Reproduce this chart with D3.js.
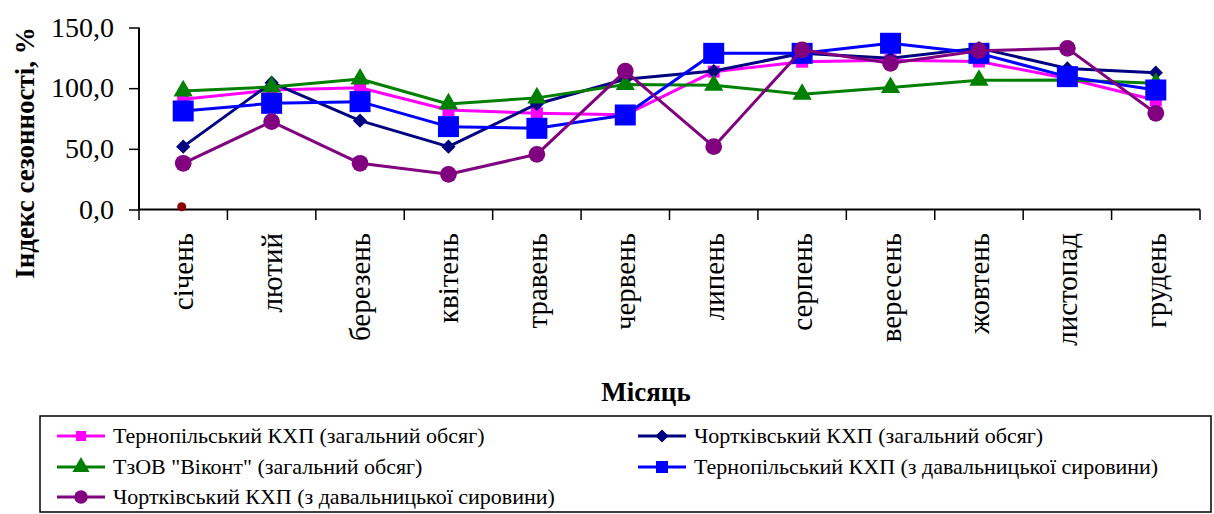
<!DOCTYPE html>
<html><head><meta charset="utf-8"><script src="https://cdn.jsdelivr.net/npm/d3@7"></script></head>
<body style="margin:0">
<svg id="chart" width="1214" height="514" style="display:block"></svg>
<script>
const FONT = '"Liberation Serif", monospace';

// Місяці року
const months = ["січень", "лютий", "березень", "квітень", "травень", "червень",
  "липень", "серпень", "вересень", "жовтень", "листопад", "грудень"];

// Індекс сезонності, %
const ternopilTotal   = [90.8, 98.5, 100.4, 82.0, 79.3, 78.0, 113.6, 121.8, 123.0, 122.0, 108.0, 90.0];
const chortkivTotal   = [51.8, 104.5, 73.2, 51.8, 87.0, 107.3, 114.1, 128.7, 124.6, 133.0, 116.3, 112.8];
const vikontTotal     = [97.7, 101.0, 107.5, 87.0, 92.0, 103.0, 102.5, 95.0, 100.5, 106.5, 106.7, 104.0];
const ternopilToll    = [81.2, 87.5, 88.9, 68.3, 66.9, 77.9, 128.7, 128.7, 137.0, 128.7, 109.5, 98.5];
const chortkivToll    = [38.1, 72.4, 38.1, 29.0, 45.5, 114.1, 51.8, 131.5, 120.5, 130.9, 132.8, 79.3];
// окрема точка біля осі (січень)
const strayPoint = [2.3];

const yTicks = [0, 50, 100, 150];

const seriesNames = [
  "Тернопільський КХП (загальний обсяг)",
  "Чортківський КХП (загальний обсяг)",
  "ТзОВ \"Віконт\" (загальний обсяг)",
  "Тернопільський КХП (з давальницької сировини)",
  "Чортківський КХП (з давальницької сировини)"
];

const seriesStyle = [
  { color: "#FF00FF", symbol: d3.symbolSquare,   size: 144 },
  { color: "#000080", symbol: d3.symbolDiamond2, size: 130 },
  { color: "#008000", symbol: d3.symbolTriangle, size: 160 },
  { color: "#0000FF", symbol: d3.symbolSquare,   size: 441 },
  { color: "#800080", symbol: d3.symbolCircle,   size: 220 }
];
const seriesValues = [ternopilTotal, chortkivTotal, vikontTotal, ternopilToll, chortkivToll];

const svg = d3.select("#chart");

const x = d3.scaleBand().domain(months).range([139, 1200]);
const y = d3.scaleLinear().domain([0, 150]).range([209.5, 27.5]);
const cx = m => x(m) + x.bandwidth() / 2;

// Вісь Y (лінія і засічки)
const yAxis = svg.append("g")
  .attr("transform", "translate(139,0)")
  .call(d3.axisLeft(y).tickValues(yTicks).tickSize(10).tickFormat(""));
yAxis.select(".domain").attr("stroke", "#000").attr("stroke-width", 2).attr("d", `M0,${y(0)}V${y(150)}`);
yAxis.selectAll(".tick line").attr("stroke", "#000").attr("stroke-width", 1.5);
yAxis.selectAll(".tick text").remove();

// Підписи значень осі Y
svg.selectAll("text.ylab").data(yTicks).enter().append("text")
  .attr("class", "ylab")
  .attr("x", 114).attr("y", d => y(d) + 9)
  .attr("text-anchor", "end")
  .style("font-family", FONT).style("font-size", "28px")
  .attr("fill", "#000")
  .text(d => d.toFixed(1).replace(".", ","));

// Вісь X: лінія, засічки на межах категорій, підписи місяців
const xAxisG = svg.append("g");
xAxisG.append("line")
  .attr("x1", x.range()[0]).attr("x2", x.range()[1])
  .attr("y1", y(0)).attr("y2", y(0))
  .attr("stroke", "#000").attr("stroke-width", 2);
const boundaries = months.map(m => x(m)).concat([x.range()[1]]);
xAxisG.selectAll("line.tick").data(boundaries).enter().append("line")
  .attr("class", "tick")
  .attr("x1", d => d).attr("x2", d => d)
  .attr("y1", y(0)).attr("y2", y(0) + 10.5)
  .attr("stroke", "#000").attr("stroke-width", 1.5);
svg.selectAll("text.xlab").data(months).enter().append("text")
  .attr("class", "xlab")
  .attr("transform", d => `translate(${cx(d) + 10},233) rotate(-90)`)
  .attr("text-anchor", "end")
  .style("font-family", FONT).style("font-size", "29px")
  .attr("fill", "#000")
  .text(d => d);

// Назви осей
svg.append("text")
  .attr("transform", "translate(34,153) rotate(-90)")
  .attr("text-anchor", "middle")
  .style("font-family", FONT).style("font-size", "27px").style("font-weight", "bold")
  .text("Індекс сезонності, %");
svg.append("text")
  .attr("x", 646).attr("y", 401)
  .attr("text-anchor", "middle")
  .style("font-family", FONT).style("font-size", "27px").style("font-weight", "bold")
  .text("Місяць");

// Ряди даних
const line = d3.line().x(d => cx(d.m)).y(d => y(d.v));
seriesValues.forEach((vals, i) => {
  const st = seriesStyle[i];
  const pts = vals.map((v, j) => ({ m: months[j], v }));
  const g = svg.append("g");
  g.append("path").datum(pts)
    .attr("d", line).attr("fill", "none")
    .attr("stroke", st.color).attr("stroke-width", 3).attr("stroke-linejoin", "round");
  g.selectAll("path.pt").data(pts).enter().append("path")
    .attr("class", "pt")
    .attr("transform", d => `translate(${cx(d.m)},${y(d.v)})`)
    .attr("d", d3.symbol(st.symbol, st.size))
    .attr("fill", st.color);
});

// Окрема точка
svg.selectAll("circle.stray").data(strayPoint).enter().append("circle")
  .attr("class", "stray")
  .attr("cx", (d, i) => cx(months[i]) - 1.5).attr("cy", d => y(d))
  .attr("r", 4.5).attr("fill", "#8B0000");

// Легенда
const legend = svg.append("g");
legend.append("rect")
  .attr("x", 40).attr("y", 416).attr("width", 1171).attr("height", 96)
  .attr("fill", "#fff").attr("stroke", "#000").attr("stroke-width", 1.5);
const legendPos = [
  { x: 57, y: 436 }, { x: 638, y: 436 },
  { x: 57, y: 467 }, { x: 638, y: 467 },
  { x: 57, y: 497 }
];
const legendScale = [0.7, 0.85, 0.8, 0.6, 0.65];
seriesNames.forEach((name, i) => {
  const p = legendPos[i], st = seriesStyle[i];
  const g = legend.append("g").attr("transform", `translate(${p.x},${p.y})`);
  g.append("line").attr("x1", 0).attr("x2", 48).attr("y1", 0).attr("y2", 0)
    .attr("stroke", st.color).attr("stroke-width", 3);
  g.append("path").attr("transform", "translate(24,0)")
    .attr("d", d3.symbol(st.symbol, st.size * legendScale[i] * (i === 3 ? 0.55 : 1)))
    .attr("fill", st.color);
  g.append("text").attr("x", 56).attr("y", 7)
    .style("font-family", FONT).style("font-size", "22px").attr("fill", "#000")
    .text(name);
});
</script>
</body>
</html>
